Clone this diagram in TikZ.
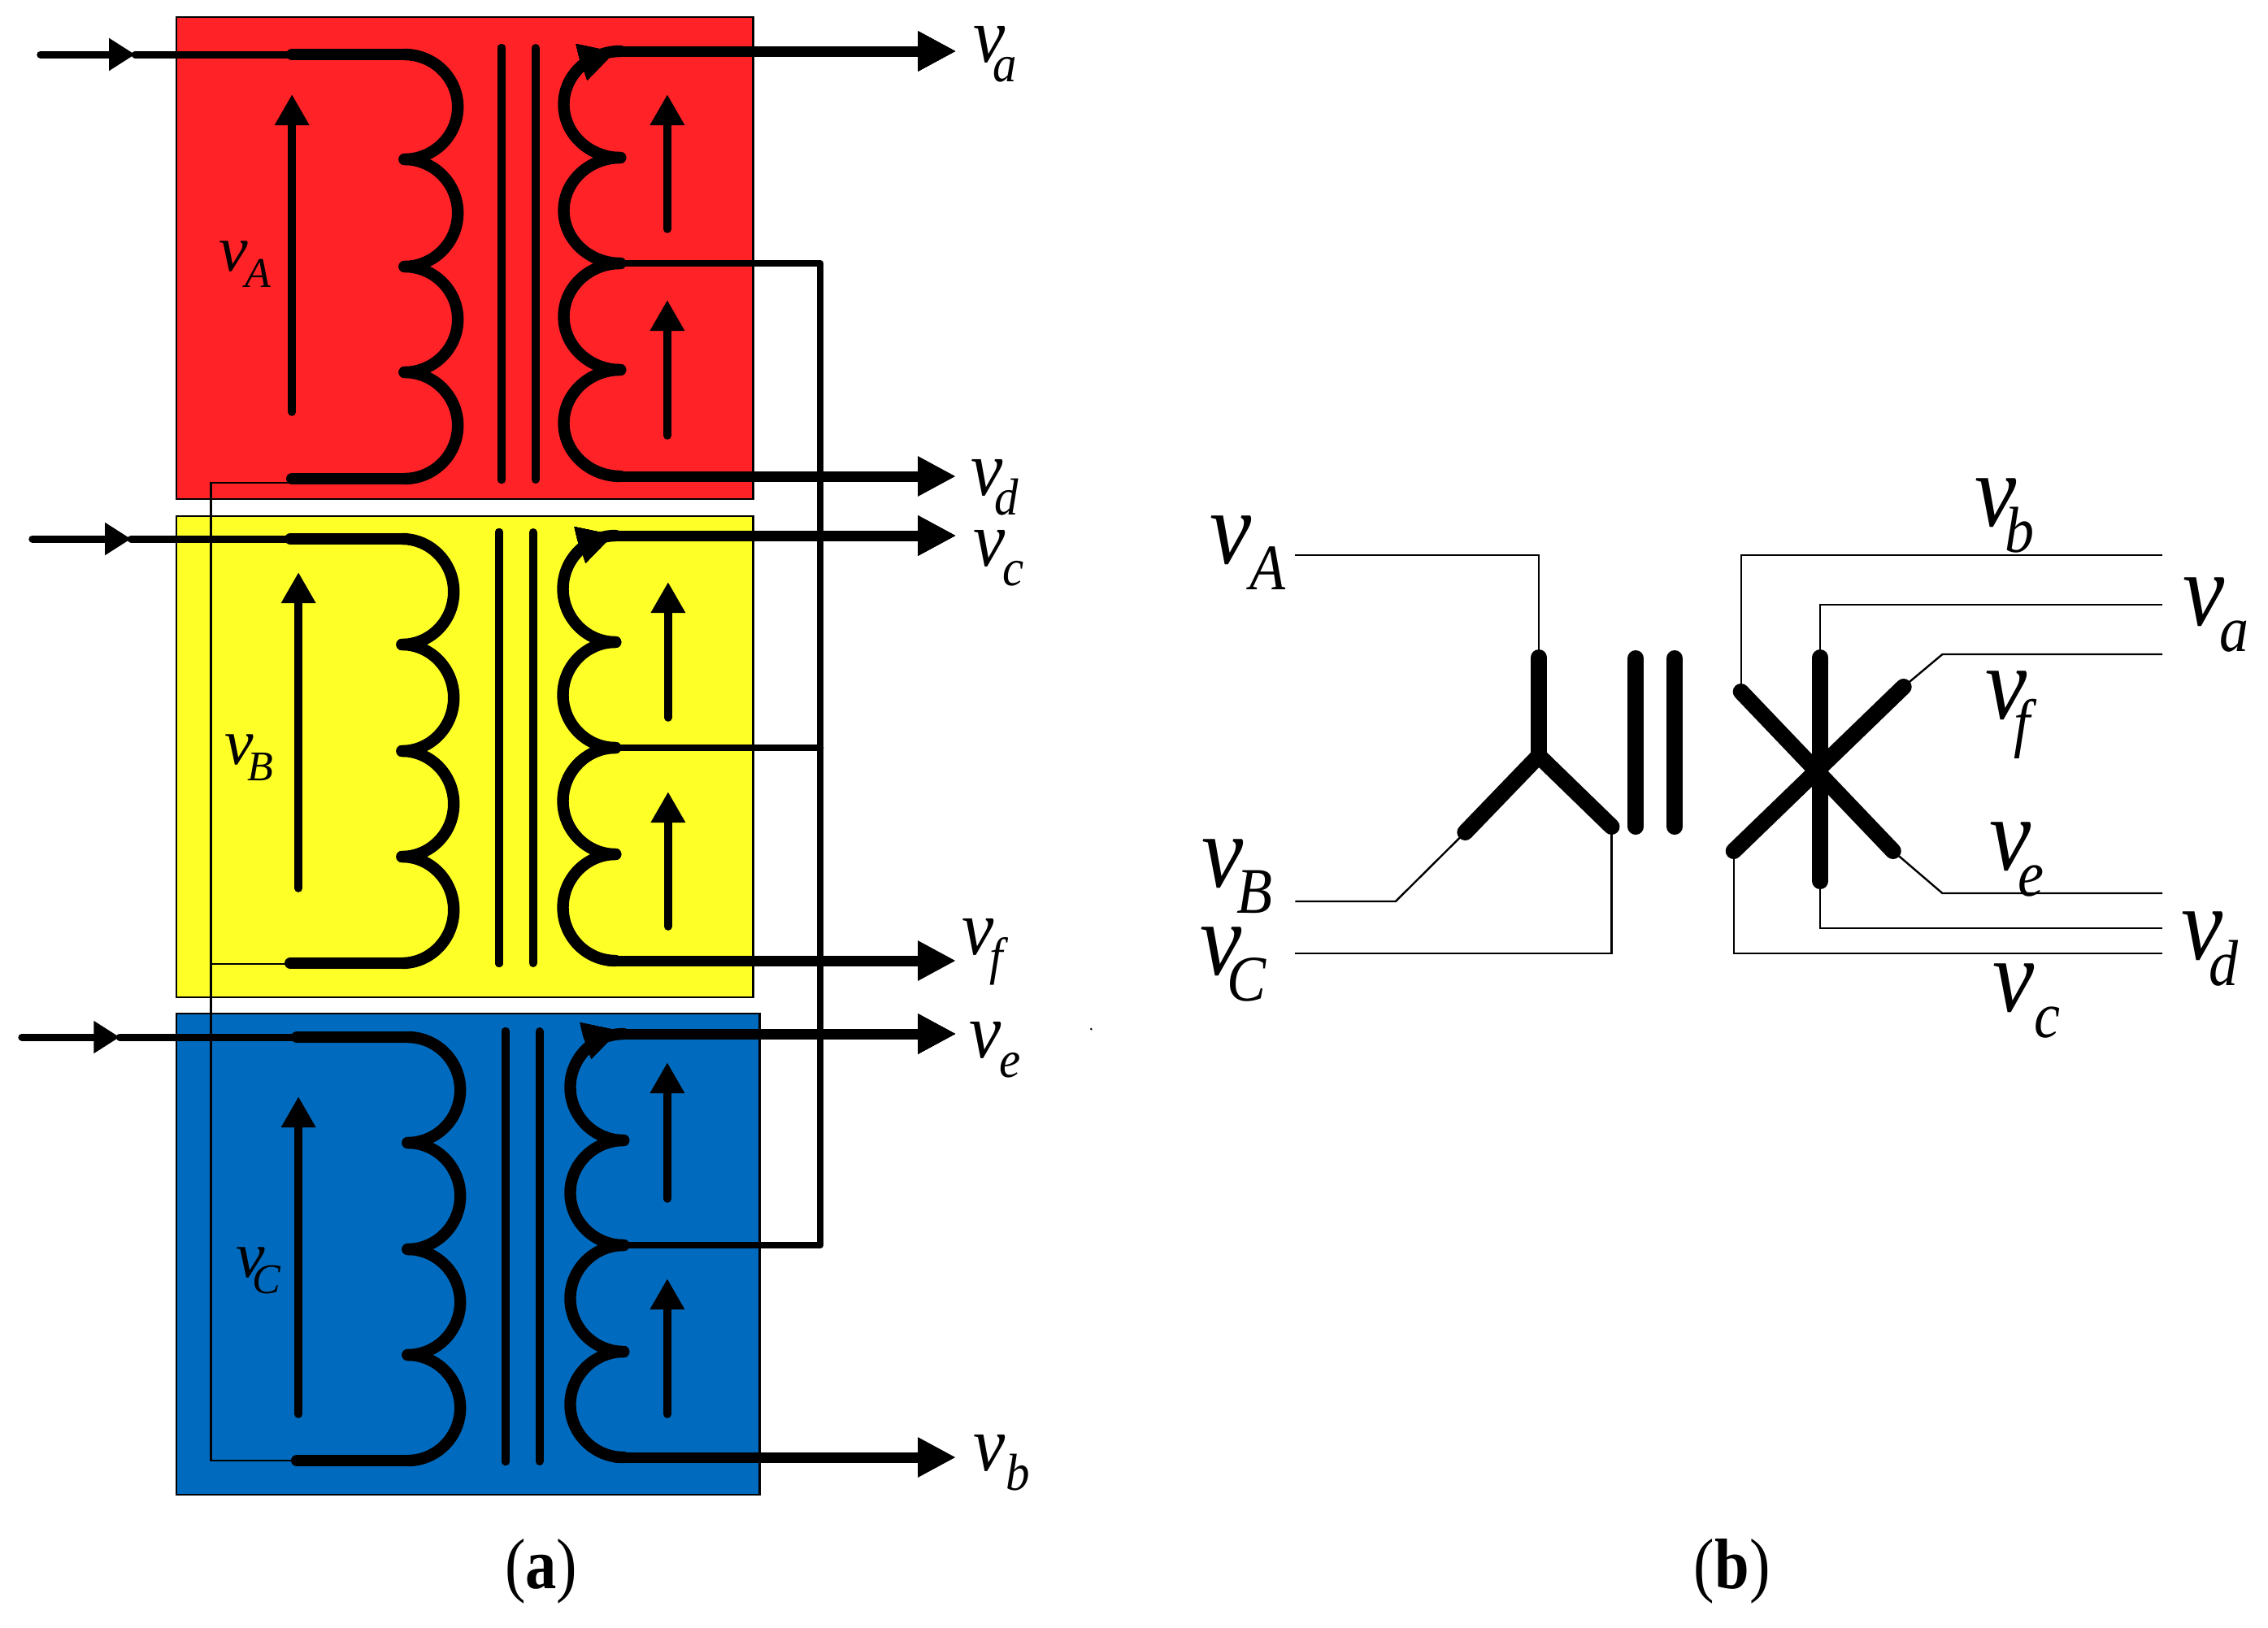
\documentclass[tikz,border=0pt]{standalone}
\usepackage{fontspec}
\setmainfont{Liberation Serif}
\usetikzlibrary{arrows.meta,calc}
\definecolor{boxred}{RGB}{255,35,40}
\definecolor{boxyellow}{RGB}{255,255,40}
\definecolor{boxblue}{RGB}{0,107,190}
\tikzset{
    housing/.style={draw=black,line width=0.6pt},
    winding/.style={line width=3.6pt,line cap=round},
    corebar/.style={line width=2.5pt,line cap=round},
    feedline/.style={line width=2.25pt,line cap=round},
    feedtip/.style={feedline,-{Triangle[length=8pt,width=9.5pt]}},
    outwire/.style={line width=3.25pt,line cap=round,-{Triangle[length=11.75pt,width=11.5pt]}},
    voltarrow/.style={line width=2.4pt,line cap=round,-{Triangle[length=9.5pt,width=10pt]}},
    busline/.style={line width=2.2pt,line cap=round,line join=round},
    thinwire/.style={line width=0.6pt},
    starleg/.style={line width=5pt,line cap=round},
    starbar/.style={line width=5pt,line cap=round},
    lab/.style={inner sep=0pt,outer sep=0pt,anchor=base west}
}
\newcommand{\lobe}[4]{\draw[winding] (#1,#3) .. controls ({#1+.55*(#2)},#3) and ({#1+#2},{#3+.225*(#4-#3)}) .. ({#1+#2},{(#3+#4)/2}) .. controls ({#1+#2},{#3+.775*(#4-#3)}) and ({#1+.55*(#2)},#4) .. (#1,#4);}
\newcommand{\headtip}[1]{\fill (#1) -- ++(-34,35) -- ++(-5,-15) -- ++(-5,-13) -- ++(-4,-17) -- cycle;}
\newcommand{\vlab}[5]{\fontsize{#1}{#1}\selectfont\textit{v}\kern#3pt\raisebox{-#4pt}{\fontsize{#2}{#2}\selectfont\textit{#5}}}
\newcommand{\vsmall}[2]{\vlab{20pt}{13pt}{#1}{5}{#2}}
\newcommand{\vmid}[2]{\scalebox{.92}[1]{\vlab{24pt}{16pt}{#1}{6}{#2}}}
\newcommand{\vbig}[2]{\scalebox{.9}[1]{\vlab{32pt}{20pt}{#1}{8}{#2}}}
\newcommand{\capt}[1]{\scalebox{.87}[1]{\fontsize{22pt}{22pt}\selectfont(\textbf{#1})}}
\begin{document}
\begin{tikzpicture}[x=0.24875pt,y=-0.25pt]
        \useasboundingbox (0,0) rectangle (2804,2002);
        \draw[housing,fill=boxred] (218,21) rectangle (931,614);
        \draw[housing,fill=boxyellow] (218,635) rectangle (931,1227);
        \draw[housing,fill=boxblue] (218,1247) rectangle (939,1839);

        \coordinate (inA) at (50,67);
        \coordinate (inAm) at (167,67);
        \coordinate (pAt) at (500,67);
        \coordinate (pAb) at (500,589);
        \coordinate (sAt) at (765,63);
        \coordinate (sAb) at (762,586);
        \coordinate (sAm) at (767,324);
        \coordinate (outa) at (1182,63);
        \coordinate (outd) at (1182,586);
        \coordinate (inB) at (40,663);
        \coordinate (inBm) at (162,663);
        \coordinate (pBt) at (497,663);
        \coordinate (pBb) at (497,1185);
        \coordinate (sBt) at (758,659);
        \coordinate (sBb) at (754,1182);
        \coordinate (sBm) at (761,920);
        \coordinate (outc) at (1182,659);
        \coordinate (outf) at (1182,1182);
        \coordinate (inC) at (27,1276);
        \coordinate (inCm) at (148,1276);
        \coordinate (pCt) at (504,1276);
        \coordinate (pCb) at (504,1797);
        \coordinate (sCt) at (771,1272);
        \coordinate (sCb) at (762,1793);
        \coordinate (sCm) at (771,1532);
        \coordinate (oute) at (1182,1272);
        \coordinate (outb) at (1182,1793);
        \coordinate (busTop) at (1014,324);
        \coordinate (retTop) at (261,594);
        \coordinate (retEnd) at (361,594);
        \coordinate (retMid) at (357,1186);
        \coordinate (retBot) at (367,1797);

        % left side, red unit
        \draw[feedtip] (inA) -- (inAm);
        \draw[feedline] (inAm) -- (pAt);
        \draw[winding] (361,67) -- (pAt);
        \draw[winding] (361,589) -- (pAb);
        \foreach \ya/\yb in {67/196,196/328,328/458,458/589} \lobe{500}{66}{\ya}{\yb}
        \draw[corebar] (620,59) -- (620,590);
        \draw[corebar] (662,59) -- (662,590);
        \foreach \ya/\yb in {63/194,194/324,324/455,455/586} \lobe{767}{-70}{\ya}{\yb}
        \headtip{760,64}
        \draw[outwire] (sAt) -- (outa);
        \draw[outwire] (sAb) -- (outd);
        \draw[voltarrow] (361,507) -- (361,116);
        \draw[voltarrow] (825,282) -- (825,116);
        \draw[voltarrow] (825,536) -- (825,369);

        % yellow unit
        \draw[feedtip] (inB) -- (inBm);
        \draw[feedline] (inBm) -- (pBt);
        \draw[winding] (359,663) -- (pBt);
        \draw[winding] (359,1185) -- (pBb);
        \foreach \ya/\yb in {663/793,793/924,924/1054,1054/1185} \lobe{497}{64}{\ya}{\yb}
        \draw[corebar] (617,655) -- (617,1185);
        \draw[corebar] (659,655) -- (659,1185);
        \foreach \ya/\yb in {659/790,790/920,920/1051,1051/1182} \lobe{761}{-65}{\ya}{\yb}
        \headtip{758,658}
        \draw[outwire] (sBt) -- (outc);
        \draw[outwire] (sBb) -- (outf);
        \draw[voltarrow] (369,1093) -- (369,704);
        \draw[voltarrow] (826,883) -- (826,716);
        \draw[voltarrow] (826,1140) -- (826,974);

        % blue unit
        \draw[feedtip] (inC) -- (inCm);
        \draw[feedline] (inCm) -- (pCt);
        \draw[winding] (367,1276) -- (pCt);
        \draw[winding] (367,1797) -- (pCb);
        \foreach \ya/\yb in {1276/1406,1406/1537,1537/1667,1667/1797} \lobe{504}{65}{\ya}{\yb}
        \draw[corebar] (625,1269) -- (625,1798);
        \draw[corebar] (667,1269) -- (667,1798);
        \foreach \ya/\yb in {1272/1403,1403/1532,1532/1663,1663/1793} \lobe{771}{-66}{\ya}{\yb}
        \headtip{765,1268}
        \draw[outwire] (sCt) -- (oute);
        \draw[outwire] (sCb) -- (outb);
        \draw[voltarrow] (369,1740) -- (369,1349);
        \draw[voltarrow] (825,1475) -- (825,1307);
        \draw[voltarrow] (825,1740) -- (825,1573);

        % shared returns
        \draw[busline] (sAm) -- (busTop) |- (sCm);
        \draw[busline] (sBm) -- (sBm -| busTop);
        \draw[thinwire] (retEnd) -- (retTop) |- (retBot);
        \draw[thinwire] (retMid) -- (retMid -| retTop);
        \fill (1349,1266) circle (1.5);

        \node[lab] (lvA) at (271,333) {\vsmall{-1}{A}};
        \node[lab] (lvB) at (278,940) {\vsmall{-2}{B}};
        \node[lab] (lvC) at (292,1571) {\vsmall{-4}{C}};
        \node[lab] (lva) at (1204,76) {\vmid{-4.25}{a}};
        \node[lab] (lvd) at (1200,609) {\vmid{-2.75}{d}};
        \node[lab] (lvc) at (1203,696) {\vmid{-0.75}{c}};
        \node[lab] (lvf) at (1189,1174) {\vmid{-1.25}{f}};
        \node[lab] (lve) at (1198,1301) {\vmid{-0.4}{e}};
        \node[lab] (lvb) at (1204,1809) {\vmid{0}{b}};
        \node[anchor=base,inner sep=0pt] (capa) at (669,1954) {\capt{a}};

        % right side, winding scheme
        \begin{scope}[xshift=1.85pt]
        \coordinate (wA) at (1594,683);
        \coordinate (wB) at (1594,1109);
        \coordinate (wBk) at (1718,1109);
        \coordinate (wC) at (1594,1173);
        \coordinate (nA) at (1895,809);
        \coordinate (nY) at (1895,930);
        \coordinate (nB) at (1804,1024);
        \coordinate (nC) at (1985,1017);
        \coordinate (nX) at (2242,950);
        \coordinate (na) at (2243,809);
        \coordinate (nd) at (2243,1084);
        \coordinate (nb) at (2145,851);
        \coordinate (ne) at (2333,1047);
        \coordinate (nf) at (2346,845);
        \coordinate (nc) at (2136,1047);
        \coordinate (wb) at (2666,683);
        \coordinate (wa) at (2666,744);
        \coordinate (wf) at (2666,805);
        \coordinate (wfk) at (2394,805);
        \coordinate (we) at (2666,1099);
        \coordinate (wek) at (2394,1099);
        \coordinate (wd) at (2666,1142);
        \coordinate (wc) at (2666,1173);

        \draw[thinwire] (wA) -| (nA);
        \draw[thinwire] (wB) -- (wBk) -- (nB);
        \draw[thinwire] (wC) -| (nC);
        \draw[starleg] (nA) -- (nY);
        \draw[starleg] (nB) -- (nY) -- (nC);
        \draw[starbar] (2015,810) -- (2015,1017);
        \draw[starbar] (2063,810) -- (2063,1017);
        \draw[thinwire] (wb) -| (nb);
        \draw[thinwire] (wa) -| (na);
        \draw[thinwire] (wf) -- (wfk) -- (nf);
        \draw[thinwire] (we) -- (wek) -- (ne);
        \draw[thinwire] (wd) -| (nd);
        \draw[thinwire] (wc) -| (nc);
        \draw[starleg] (na) -- (nd);
        \draw[starleg] (nb) -- (ne);
        \draw[starleg] (nf) -- (nc);

        \node[lab] (rvA) at (1489,693) {\vbig{-0.75}{A}};
        \node[lab] (rvB) at (1478,1091) {\vbig{-2}{B}};
        \node[lab] (rvC) at (1476,1199) {\vbig{-5}{C}};
        \node[lab] (rvb) at (2434,647) {\vbig{-3.75}{b}};
        \node[lab] (rva) at (2692,769) {\vbig{-1.75}{a}};
        \node[lab] (rvf) at (2447,884) {\vbig{-4.5}{f}};
        \node[lab] (rve) at (2452,1070) {\vbig{-4.5}{e}};
        \node[lab] (rvd) at (2690,1180) {\vbig{-5}{d}};
        \node[lab] (rvc) at (2456,1244) {\vbig{0}{c}};
        \node[anchor=base,inner sep=0pt] (capb) at (2134,1954) {\capt{b}};
        \end{scope}
    \end{tikzpicture}
\end{document}
